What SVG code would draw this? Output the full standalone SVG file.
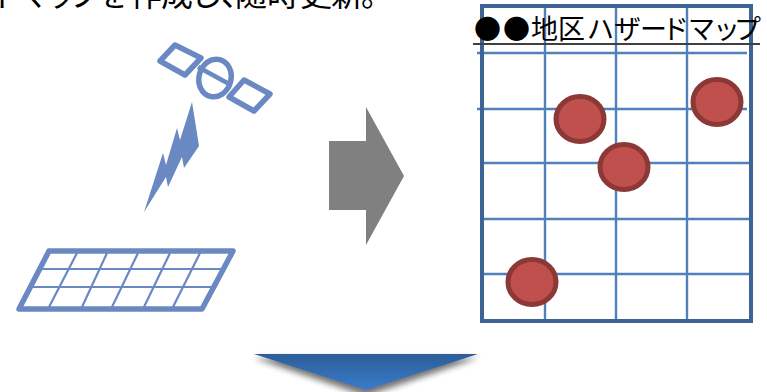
<svg xmlns="http://www.w3.org/2000/svg" width="767" height="392" viewBox="0 0 767 392">
<style>
.blue{fill:none;stroke:#6a88c2;stroke-linejoin:round}
.grid{stroke:#4f81bd;stroke-width:2.400;fill:none}
.pin{fill:#c0504d;stroke:#8c3836;stroke-width:5}
text{font-family:"Noto Sans CJK JP","Liberation Sans",sans-serif;fill:#000}
</style>
<defs>
<linearGradient id="g" x1="0" y1="0" x2="0" y2="1"><stop offset="0" stop-color="#2c5d98"/><stop offset="1" stop-color="#3a7ccb"/></linearGradient>
<filter id="s" x="-10%" y="-30%" width="120%" height="170%"><feGaussianBlur stdDeviation="3"/></filter>
</defs>
<text x="-9 18 45 68 97 130 161 190 221 235 267 300 331 361" y="6" font-size="32">ドマップを作成し、随時更新。</text>
<g id="satellite">
<path class="blue" stroke-width="5.500" d="M175 45L201 58L185 75L160 61ZM244 80L270 94L254 111L229 97Z"/>
<ellipse class="blue" stroke-width="5.500" cx="215" cy="78" rx="16" ry="19" transform="rotate(15 215 78)"/>
<path class="blue" stroke-width="4.500" d="M198 67L231 85"/>
</g>
<g id="bolt"><path fill="#6a88c2" d="M192 102L199 146L184 168L182 157L168 187L166 177L144 212L163 153L166 165L177 128L180 140Z"/></g>
<g id="panel">
<path class="blue" stroke-width="5.500" d="M49 251H233L202 309H19Z"/>
<path class="blue" stroke-width="2.200" d="M42 269H221M33 287H212M77 253L49 307M107 253L82 307M138 253L112 307M170 253L144 307M200 253L173 307"/>
</g>
<g id="arrow-right"><path fill="#808080" d="M329 141H366V107L404 176L366 245V210H329Z"/></g>
<g id="map">
<path class="grid" d="M477 53H747M477 109H747M482 163H751M482 219H751M482 274H751M545 6V321M616 6V321M687 6V321"/>
<rect x="482" y="6" width="269" height="315" fill="none" stroke="#3d6494" stroke-width="4"/>
<ellipse class="pin" cx="580" cy="119" rx="24" ry="22.500"/>
<ellipse class="pin" cx="624" cy="167" rx="24" ry="22.500"/>
<ellipse class="pin" cx="717" cy="102" rx="24" ry="22.500"/>
<ellipse class="pin" cx="532" cy="282" rx="24" ry="22.500"/>
<text x="474 503 531 558 587 614 640 662 688 713 734" y="39" font-size="27">●●地区ハザードマップ</text>
<path d="M473 44H760" stroke="#404040" stroke-width="2" fill="none"/>
</g>
<g id="arrow-down">
<path d="M254 358H478L366 396Z" fill="#000" opacity=".55" filter="url(#s)"/>
<path d="M254 354H478L366 390Z" fill="url(#g)"/>
</g>
</svg>
